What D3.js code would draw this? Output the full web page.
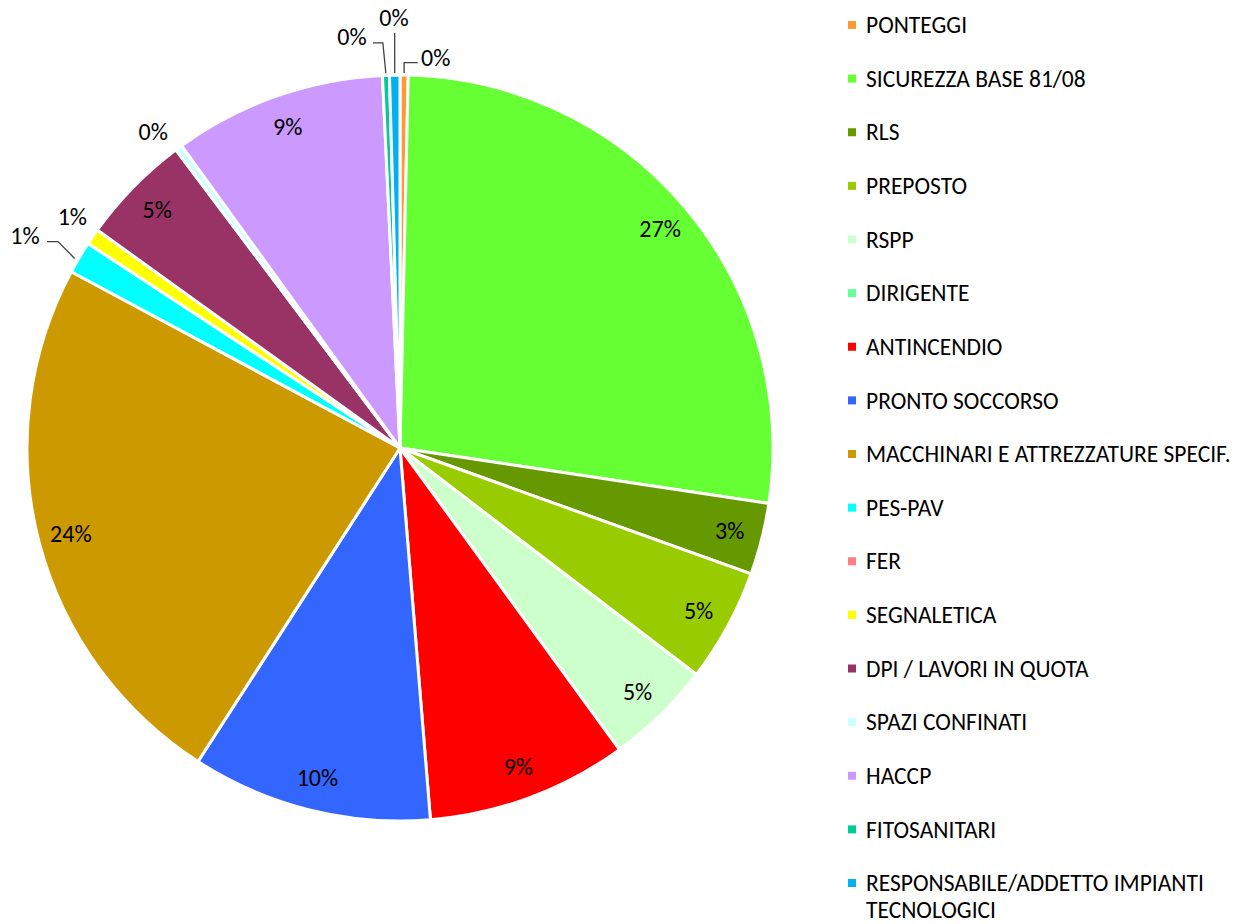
<!DOCTYPE html>
<html>
<head>
<meta charset="utf-8">
<script src="https://cdn.jsdelivr.net/npm/d3@7"></script>
<style>
body { margin:0; background:#fff; }
text { font-family: Carlito, Lato, "Liberation Sans", sans-serif; fill:#000; }
</style>
</head>
<body>
<svg></svg>
<script>
// categories, in the order they go round the pie (clockwise from 12 o'clock)
var categories = ["PONTEGGI","SICUREZZA BASE 81/08","RLS","PREPOSTO","RSPP","DIRIGENTE",
  "ANTINCENDIO","PRONTO SOCCORSO","MACCHINARI E ATTREZZATURE SPECIF.","PES-PAV","FER",
  "SEGNALETICA","DPI / LAVORI IN QUOTA","SPAZI CONFINATI","HACCP","FITOSANITARI",
  "RESPONSABILE/ADDETTO IMPIANTI TECNOLOGICI"]
// share of each course (percent)
var values = [0.35, 27.0, 3.1, 4.9, 4.6, 0, 8.7, 10.4, 23.7, 1.4, 0, 0.7, 4.8, 0.3, 9.2, 0.3, 0.45]
var colors = ["#FF9933","#66FF33","#669900","#99CC00","#CCFFCC","#66FF99","#FF0000","#3366FF",
  "#CC9900","#00FFFF","#FF7C80","#FFFF00","#993366","#CCFFFF","#CC99FF","#00CC99","#00B0F0"]

// labels pushed outside the pie: radius and angle nudge (degrees), leader line or not
var outside = {
  "PONTEGGI": {r:392, da:4.6, leader:"right"},
  "RESPONSABILE/ADDETTO IMPIANTI TECNOLOGICI": {r:430, da:0, leader:"up"},
  "FITOSANITARI": {r:414, da:-4.5, leader:"left"},
  "SPAZI CONFINATI": {r:401, da:-1.6},
  "SEGNALETICA": {r:401, da:0.7},
  "PES-PAV": {r:431, da:-1.2, leader:"left"}
}

var screen = {width:1255, height:924}
var center = {x:400, y:448}
var radius = 373

var svg = d3.select("svg")
  .attr("width", screen.width)
  .attr("height", screen.height)

var data = categories.map(function(c,i){ return {name:c, value:values[i], color:colors[i]} })
var total = d3.sum(values)

var pie = d3.pie().sort(null).value(function(d){ return d.value })
var arcs = pie(data)
var arc = d3.arc().innerRadius(0).outerRadius(radius)

var g = svg.append("g")
  .attr("id","pie")
  .attr("transform","translate("+center.x+","+center.y+")")

g.selectAll("path")
  .data(arcs.filter(function(a){ return a.value > 0 }))
  .enter()
  .append("path")
  .attr("d", arc)
  .attr("fill", function(a){ return a.data.color })
  .attr("stroke", "#fff")
  .attr("stroke-width", 3)
  .attr("stroke-linejoin", "round")

var polar = function(r, ang){ return [r*Math.sin(ang), -r*Math.cos(ang)] }

arcs.filter(function(a){ return a.value > 0 }).forEach(function(a)
{
  var mid = (a.startAngle + a.endAngle)/2
  var pct = Math.round(a.value/total*100) + "%"
  var o = outside[a.data.name]
  var pos
  if (o) {
    pos = polar(o.r, mid + o.da*Math.PI/180)
  } else {
    pos = polar(340, mid)
  }
  g.append("text")
    .attr("x", pos[0]).attr("y", pos[1])
    .attr("text-anchor","middle")
    .attr("dy","0.35em")
    .style("font-size","24px")
    .text(pct)

  if (o && o.leader) {
    var start = polar(radius+2, mid)
    var pts
    if (o.leader == "up") {
      pts = [start, [start[0], pos[1]+15]]
    } else if (o.leader == "right") {
      pts = [start, [start[0], pos[1]+5], [pos[0]-18, pos[1]+5]]
    } else if (a.data.name == "FITOSANITARI") {
      pts = [start, [start[0]-3, pos[1]+6], [pos[0]+21, pos[1]+6]]
    } else {
      pts = [[start[0]-3, start[1]+2], [pos[0]+33, pos[1]+6], [pos[0]+22, pos[1]+6]]
    }
    g.append("polyline")
      .attr("points", pts.map(function(p){ return p.join(",") }).join(" "))
      .attr("fill","none")
      .attr("stroke","#404040")
      .attr("stroke-width",1.3)
  }
})

// legend
var legendY = d3.scalePoint().domain(categories).range([25, 883])

var legend = svg.append("g").attr("id","legend")
var items = legend.selectAll("g")
  .data(data)
  .enter()
  .append("g")
  .attr("transform", function(d){ return "translate(848,"+legendY(d.name)+")" })

items.append("rect")
  .attr("x",0).attr("y",-4)
  .attr("width",8).attr("height",8)
  .attr("fill", function(d){ return d.color })

items.append("text")
  .attr("x",18)
  .attr("dy","0.35em")
  .style("font-size","23.5px")
  .each(function(d)
  {
    var t = d3.select(this)
    if (d.name.indexOf("RESPONSABILE") == 0) {
      t.append("tspan").attr("x",18).text("RESPONSABILE/ADDETTO IMPIANTI")
      t.append("tspan").attr("x",18).attr("dy","27").text("TECNOLOGICI")
    } else {
      t.text(d.name)
    }
  })
</script>
</body>
</html>
